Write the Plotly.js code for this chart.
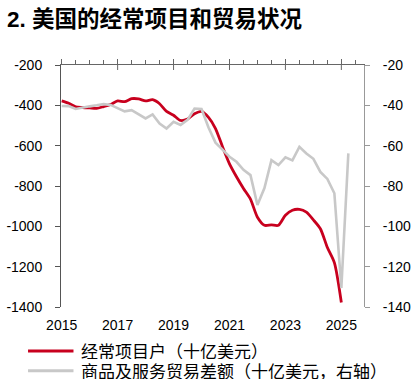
<!DOCTYPE html>
<html>
<head>
<meta charset="utf-8">
<script src="https://cdn.plot.ly/plotly-3.0.1.min.js"></script>
<style>
  html, body { margin: 0; padding: 0; background: #fff; }
  #chart { width: 418px; height: 388px; }
</style>
</head>
<body>
<div id="chart"></div>
<script>
// Quarter labels (2015Q1 .. 2025Q2)
const quarters = [
  '2015Q1','2015Q2','2015Q3','2015Q4','2016Q1','2016Q2','2016Q3','2016Q4',
  '2017Q1','2017Q2','2017Q3','2017Q4','2018Q1','2018Q2','2018Q3','2018Q4',
  '2019Q1','2019Q2','2019Q3','2019Q4','2020Q1','2020Q2','2020Q3','2020Q4',
  '2021Q1','2021Q2','2021Q3','2021Q4','2022Q1','2022Q2','2022Q3','2022Q4',
  '2023Q1','2023Q2','2023Q3','2023Q4','2024Q1','2024Q2','2024Q3','2024Q4',
  '2025Q1','2025Q2'
];

// Current account (billion USD, left axis), 2015Q1 .. 2025Q1
const currentAccount = [
  -378,-390,-408,-411,-413,-415,-406,-396,-378,-382,
  -367,-368,-378,-372,-392,-430,-449,-475,-468,-442,
  -430,-460,-515,-605,-690,-754,-812,-865,-955,-995,
  -993,-995,-945,-920,-916,-930,-968,-1012,-1105,-1180,
  -1378
];

// Goods & services trade balance (billion USD, right axis), 2015Q1 .. 2025Q2
const tradeBalance = [
  -40.3,-40.4,-41.8,-41.0,-40.5,-40.0,-39.4,-39.8,-41.3,-43.0,
  -42.4,-44.5,-46.5,-44.5,-49.0,-51.5,-48.2,-49.7,-47.2,-41.6,
  -41.8,-51.0,-58.5,-62.0,-65.5,-68.0,-72.0,-74.6,-89.4,-81.0,
  -67.2,-69.6,-65.8,-67.3,-60.6,-63.9,-66.5,-73.0,-76.5,-83.6,
  -130.6,-63.8
];

// Axis ticks and their labels
const yearTicks = [2015, 2017, 2019, 2021, 2023, 2025];
const yearLabels = ['2015', '2017', '2019', '2021', '2023', '2025'];
const leftTicks = [-200, -400, -600, -800, -1000, -1200, -1400];
const leftLabels = ['-200', '-400', '-600', '-800', '-1000', '-1200', '-1400'];
const rightTicks = [-20, -40, -60, -80, -100, -120, -140];
const rightLabels = ['-20', '-40', '-60', '-80', '-100', '-120', '-140'];

const names = ['经常项目户（十亿美元）', '商品及服务贸易差额（十亿美元，右轴）'];
const colors = ['#C8001E', '#C8C8C8'];

function qToNum(q) {
  const y = parseInt(q.slice(0, 4), 10);
  const n = parseInt(q.slice(5), 10);
  return y + (n - 1) * 0.25;
}
const xAll = quarters.map(qToNum);
const xCA = xAll.slice(0, currentAccount.length);
const xTB = xAll.slice(0, tradeBalance.length);

const xRange = [2014.975, 2025.81];

const traces = [
  {
    x: xCA, y: currentAccount, name: names[0], type: 'scatter', mode: 'lines',
    line: { color: colors[0], width: 2.8, shape: 'spline', smoothing: 0.7 },
    xaxis: 'x', yaxis: 'y', hoverinfo: 'skip', showlegend: false
  },
  {
    x: xTB, y: tradeBalance, name: names[1], type: 'scatter', mode: 'lines',
    line: { color: colors[1], width: 2.6 },
    xaxis: 'x2', yaxis: 'y2', hoverinfo: 'skip', showlegend: false
  }
];

const numFont = { family: 'Liberation Sans, Arial, sans-serif', size: 14, color: '#000' };

// plot area in pixels (for placing the hand-made legend outside the plot)
const M = { l: 61, r: 53.7, t: 64.7, b: 80.7 };
const W = 418, H = 388;
const pw = W - M.l - M.r, ph = H - M.t - M.b;
const px2x = p => (p - M.l) / pw;
const py2y = p => (H - M.b - p) / ph;

const shapes = [];
// lower half of the crossing major ticks on the top axis
yearTicks.slice(1).forEach(t => shapes.push({
  type: 'line', xref: 'x', yref: 'paper', x0: t, x1: t, y0: 1, y1: 1 - 5 / ph,
  line: { color: '#666', width: 1 }
}));

// legend
const legendRows = [351.3, 371.3];
const annotations = [];
names.forEach((n, i) => {
  shapes.push({
    type: 'line', xref: 'paper', yref: 'paper',
    x0: px2x(28), x1: px2x(73.5), y0: py2y(legendRows[i]), y1: py2y(legendRows[i]),
    line: { color: colors[i], width: 3 }
  });
  annotations.push({
    text: n, xref: 'paper', yref: 'paper', x: px2x(80.5), y: py2y(legendRows[i]),
    xanchor: 'left', yanchor: 'middle', showarrow: false,
    height: 17, borderpad: 0, valign: 'middle',
    font: { family: 'Noto Sans CJK SC, sans-serif', size: 17, color: '#000' }
  });
});

const layout = {
  width: W, height: H,
  margin: M,
  paper_bgcolor: '#fff', plot_bgcolor: '#fff',
  font: { family: 'Liberation Sans, Noto Sans CJK SC, sans-serif', size: 14, color: '#000' },
  showlegend: false,
  title: {
    text: '<b>2. 美国的经常项目和贸易状况</b>',
    font: { family: 'Liberation Sans, Noto Sans CJK SC, sans-serif', size: 22.5, color: '#000' },
    xref: 'container', x: 7 / 418, xanchor: 'left',
    yref: 'container', y: 1 - 19 / 388, yanchor: 'middle'
  },
  xaxis: {
    range: xRange, showgrid: false, zeroline: false, showline: false,
    ticks: '', tickmode: 'array', tickvals: yearTicks, ticktext: yearLabels,
    tickfont: numFont, ticklabelstandoff: 8, fixedrange: true
  },
  xaxis2: {
    range: xRange, overlaying: 'x', side: 'top', anchor: 'y2',
    showgrid: false, zeroline: false, showline: true, linecolor: '#666', linewidth: 1,
    ticks: 'outside', ticklen: 5, tickcolor: '#666', tick0: 2015, dtick: 2,
    showticklabels: false,
    minor: { dtick: 0.5, ticks: 'outside', ticklen: 4, tickcolor: '#666' },
    fixedrange: true
  },
  yaxis: {
    range: [-1400, -200], tickmode: 'array', tickvals: leftTicks, ticktext: leftLabels,
    showgrid: false, zeroline: false,
    showline: true, linecolor: '#555', linewidth: 1,
    ticks: 'outside', ticklen: 5, tickcolor: '#555',
    tickfont: numFont, ticklabelstandoff: 10, fixedrange: true
  },
  yaxis2: {
    range: [-140, -20], tickmode: 'array', tickvals: rightTicks, ticktext: rightLabels,
    overlaying: 'y', side: 'right',
    showgrid: false, zeroline: false,
    showline: true, linecolor: '#999', linewidth: 1,
    ticks: 'outside', ticklen: 5, tickcolor: '#999',
    tickfont: numFont, ticklabelstandoff: 10, fixedrange: true
  },
  shapes: shapes,
  annotations: annotations
};

Plotly.newPlot('chart', traces, layout, { displayModeBar: false, staticPlot: true });
</script>
</body>
</html>
